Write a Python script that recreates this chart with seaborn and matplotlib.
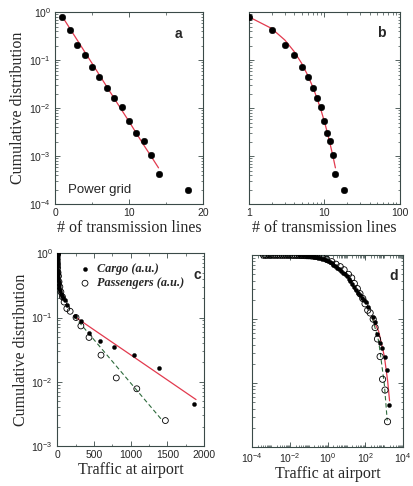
import matplotlib
matplotlib.use('Agg')
import matplotlib.pyplot as plt
import matplotlib.ticker as mticker
import pandas as pd
import seaborn as sns

# Power grid: cumulative distribution of transmission lines per node
grid_k = [1, 2, 3, 4, 5, 6, 7, 8, 9, 10, 11, 12, 13, 14, 18]
grid_p = [0.81, 0.43, 0.21, 0.127, 0.073, 0.044, 0.026, 0.016, 0.0108,
          0.0055, 0.0031, 0.0021, 0.00105, 0.00042, 0.0002]
# exponential fit (red line)
fit_k = [1, 2, 3, 4, 5, 6, 7, 8, 9, 10, 11, 12, 13, 14]
fit_p = [0.8, 0.458, 0.262, 0.15, 0.086, 0.049, 0.028, 0.016, 0.0092,
         0.0053, 0.003, 0.0017, 0.00099, 0.00057]

# Airports: cargo (filled) and passengers (open)
cargo_x = [0.03, 0.05, 0.08, 0.1, 0.13, 0.16, 0.2, 0.25, 0.32, 0.4, 0.5,
           0.63, 0.8, 1.0, 1.3, 1.6, 2.0, 2.5, 3.2, 4.0, 5.0, 6.3, 8.0, 10,
           13, 16, 20, 25, 32, 40, 50, 63, 80, 102, 137, 243, 323, 434, 584,
           774, 1040, 1393, 1867]
cargo_y = [0.995, 0.99, 0.98, 0.975, 0.965, 0.955, 0.945, 0.93, 0.915, 0.9,
           0.88, 0.86, 0.835, 0.81, 0.78, 0.75, 0.71, 0.68, 0.64, 0.6, 0.57,
           0.53, 0.5, 0.47, 0.43, 0.39, 0.355, 0.32, 0.29, 0.26, 0.235, 0.215,
           0.2, 0.184, 0.154, 0.107, 0.089, 0.058, 0.043, 0.035, 0.026,
           0.0163, 0.0045]
pass_x = [0.0004, 0.0005, 0.0006, 0.0008, 0.001, 0.0013, 0.0016, 0.002,
          0.0025, 0.0032, 0.004, 0.005, 0.0063, 0.008, 0.01, 0.013, 0.016,
          0.02, 0.025, 0.032, 0.04, 0.05, 0.063, 0.08, 0.1, 0.13, 0.16, 0.2,
          0.25, 0.32, 0.49, 0.89, 1.66, 2.75, 4.6, 7.4, 12.6, 18.6, 25.7, 37,
          51, 72, 95, 132, 177, 257, 323, 434, 597, 805, 1084, 1473]
pass_y = [1, 1, 1, 1, 1, 1, 1, 1, 1, 1, 1, 1, 1, 1, 1, 0.998, 0.997, 0.996,
          0.995, 0.993, 0.99, 0.988, 0.985, 0.982, 0.98, 0.975, 0.97, 0.965,
          0.96, 0.955, 0.94, 0.86, 0.79, 0.72, 0.66, 0.59, 0.5, 0.44, 0.36,
          0.30, 0.25, 0.21, 0.174, 0.138, 0.125, 0.1, 0.074, 0.049, 0.026,
          0.0115, 0.0078, 0.0025]
# fits read along the lines of panel c
cargo_fit_x = [230, 500, 1000, 1500, 1890]
cargo_fit_y = [0.105, 0.0645, 0.0263, 0.0107, 0.0053]
pass_fit_x = [230, 500, 1000, 1420]
pass_fit_y = [0.105, 0.0454, 0.0096, 0.0026]

# Labels
y_l = 'Cumulative distribution'
grid_l = '# of transmission lines'
air_l = 'Traffic at airport'
# Colors
fit_c = '#e23a4e'
pfit_c = '#2e6b3c'
spine_c = '#3a4a48'

sns.set_style('ticks')
plt.rcParams['font.family'] = ['Liberation Sans', 'DejaVu Sans']
plt.rcParams['mathtext.default'] = 'regular'
serif = {'family': ['Liberation Serif', 'DejaVu Serif'], 'size': 11.5}

grid = pd.DataFrame({'k': grid_k, 'p': grid_p})
gfit = pd.DataFrame({'k': fit_k, 'p': fit_p})
cargo = pd.DataFrame({'x': cargo_x, 'y': cargo_y})
pas = pd.DataFrame({'x': pass_x, 'y': pass_y})
cfit = pd.DataFrame({'x': cargo_fit_x, 'y': cargo_fit_y})
pfit = pd.DataFrame({'x': pass_fit_x, 'y': pass_fit_y})

fig = plt.figure(figsize=(4.14, 4.86), dpi=100)
ax_a = fig.add_axes([0.133, 0.580, 0.357, 0.395])
ax_b = fig.add_axes([0.601, 0.580, 0.365, 0.395])
ax_c = fig.add_axes([0.138, 0.082, 0.355, 0.397])
ax_d = fig.add_axes([0.609, 0.080, 0.365, 0.395])


def style(ax):
    ax.tick_params(which='both', direction='in', top=True, right=True,
                   labelsize=7.5, pad=3, color=spine_c)
    ax.tick_params(which='major', length=3.5, width=0.6)
    ax.tick_params(which='minor', length=1.8, width=0.5)
    for s in ax.spines.values():
        s.set_color(spine_c)
        s.set_linewidth(0.8)
    ax.set_yscale('log')
    ax.yaxis.set_major_locator(mticker.LogLocator(base=10, numticks=10))
    ax.yaxis.set_minor_locator(mticker.LogLocator(base=10, subs=range(2, 10),
                                                  numticks=10))
    ax.yaxis.set_minor_formatter(mticker.NullFormatter())


# a: power grid, semilog
sns.lineplot(data=gfit, x='k', y='p', color=fit_c, lw=0.9, ax=ax_a)
sns.scatterplot(data=grid, x='k', y='p', color='black', s=22,
                edgecolor='black', zorder=3, ax=ax_a)
style(ax_a)
ax_a.set_xlim(0, 20)
ax_a.set_ylim(1e-4, 1)
ax_a.set_xticks([0, 10, 20])
ax_a.xaxis.set_minor_locator(mticker.MultipleLocator(5))
ax_a.set_xlabel(grid_l, fontdict=serif, labelpad=1)
ax_a.set_ylabel(y_l, fontdict=serif, labelpad=2)
ax_a.text(0.09, 0.073, 'Power grid', transform=ax_a.transAxes,
          fontsize=9.5, va='center')
ax_a.text(0.81, 0.885, 'a', transform=ax_a.transAxes, fontsize=10,
          fontweight='bold', va='center')

# b: power grid, log-log
sns.lineplot(data=gfit, x='k', y='p', color=fit_c, lw=0.9, ax=ax_b)
sns.scatterplot(data=grid, x='k', y='p', color='black', s=22,
                edgecolor='black', zorder=3, ax=ax_b)
style(ax_b)
ax_b.set_xscale('log')
ax_b.set_xlim(1, 100)
ax_b.set_ylim(1e-4, 1)
ax_b.xaxis.set_major_formatter(mticker.FuncFormatter(lambda v, p: '%g' % v))
ax_b.xaxis.set_minor_locator(mticker.LogLocator(base=10, subs=range(2, 10),
                                                numticks=10))
ax_b.xaxis.set_minor_formatter(mticker.NullFormatter())
ax_b.set_yticklabels([])
ax_b.set_xlabel(grid_l, fontdict=serif, labelpad=1)
ax_b.set_ylabel('')
ax_b.text(0.85, 0.89, 'b', transform=ax_b.transAxes, fontsize=10,
          fontweight='bold', va='center')

# c: airports, semilog
sns.lineplot(data=cfit, x='x', y='y', color=fit_c, lw=0.9, ax=ax_c)
sns.lineplot(data=pfit, x='x', y='y', color=pfit_c, lw=0.8, ax=ax_c,
             linestyle=(0, (4, 2.5)))
sns.scatterplot(data=pas, x='x', y='y', facecolor='none', edgecolor='black',
                linewidth=0.6, s=18, zorder=3, ax=ax_c,
                label='Passengers (a.u.)')
sns.scatterplot(data=cargo, x='x', y='y', color='black', edgecolor='black',
                s=9, zorder=4, ax=ax_c, label='Cargo (a.u.)')
style(ax_c)
ax_c.set_xlim(0, 2000)
ax_c.set_ylim(1e-3, 1)
ax_c.set_xticks([0, 500, 1000, 1500, 2000])
ax_c.xaxis.set_minor_locator(mticker.MultipleLocator(250))
ax_c.set_xlabel(air_l, fontdict=serif, labelpad=1)
ax_c.set_ylabel(y_l, fontdict=serif, labelpad=2)
h, l = ax_c.get_legend_handles_labels()
ax_c.legend(h[::-1], l[::-1], loc='upper left', bbox_to_anchor=(0.04, 1.0),
            frameon=False, handletextpad=0.0, labelspacing=0.2,
            borderpad=0.3,
            prop={'family': ['Liberation Serif'], 'style': 'italic',
                  'weight': 'bold', 'size': 8.8})
ax_c.text(0.93, 0.886, 'c', transform=ax_c.transAxes, fontsize=10,
          fontweight='bold', va='center')

# d: airports, log-log
sns.lineplot(data=cfit, x='x', y='y', color=fit_c, lw=0.9, ax=ax_d)
sns.lineplot(data=pfit, x='x', y='y', color=pfit_c, lw=0.8, ax=ax_d,
             linestyle=(0, (4, 2.5)))
sns.scatterplot(data=pas, x='x', y='y', facecolor='none', edgecolor='black',
                linewidth=0.6, s=20, zorder=3, ax=ax_d, legend=False)
sns.scatterplot(data=cargo, x='x', y='y', color='black', edgecolor='black',
                s=9, zorder=4, ax=ax_d, legend=False)
style(ax_d)
ax_d.set_xscale('log')
ax_d.set_xlim(1e-4, 1e4)
ax_d.set_ylim(1e-3, 1)
ax_d.set_xticks([1e-4, 1e-2, 1, 1e2, 1e4])
ax_d.xaxis.set_minor_locator(mticker.LogLocator(base=10, subs=range(1, 10),
                                                numticks=20))
ax_d.xaxis.set_minor_formatter(mticker.NullFormatter())
ax_d.set_yticklabels([])
ax_d.set_xlabel(air_l, fontdict=serif, labelpad=1)
ax_d.set_ylabel('')
ax_d.text(0.91, 0.89, 'd', transform=ax_d.transAxes, fontsize=10,
          fontweight='bold', va='center')

plt.savefig('out.png', dpi=100)
plt.close(fig)
